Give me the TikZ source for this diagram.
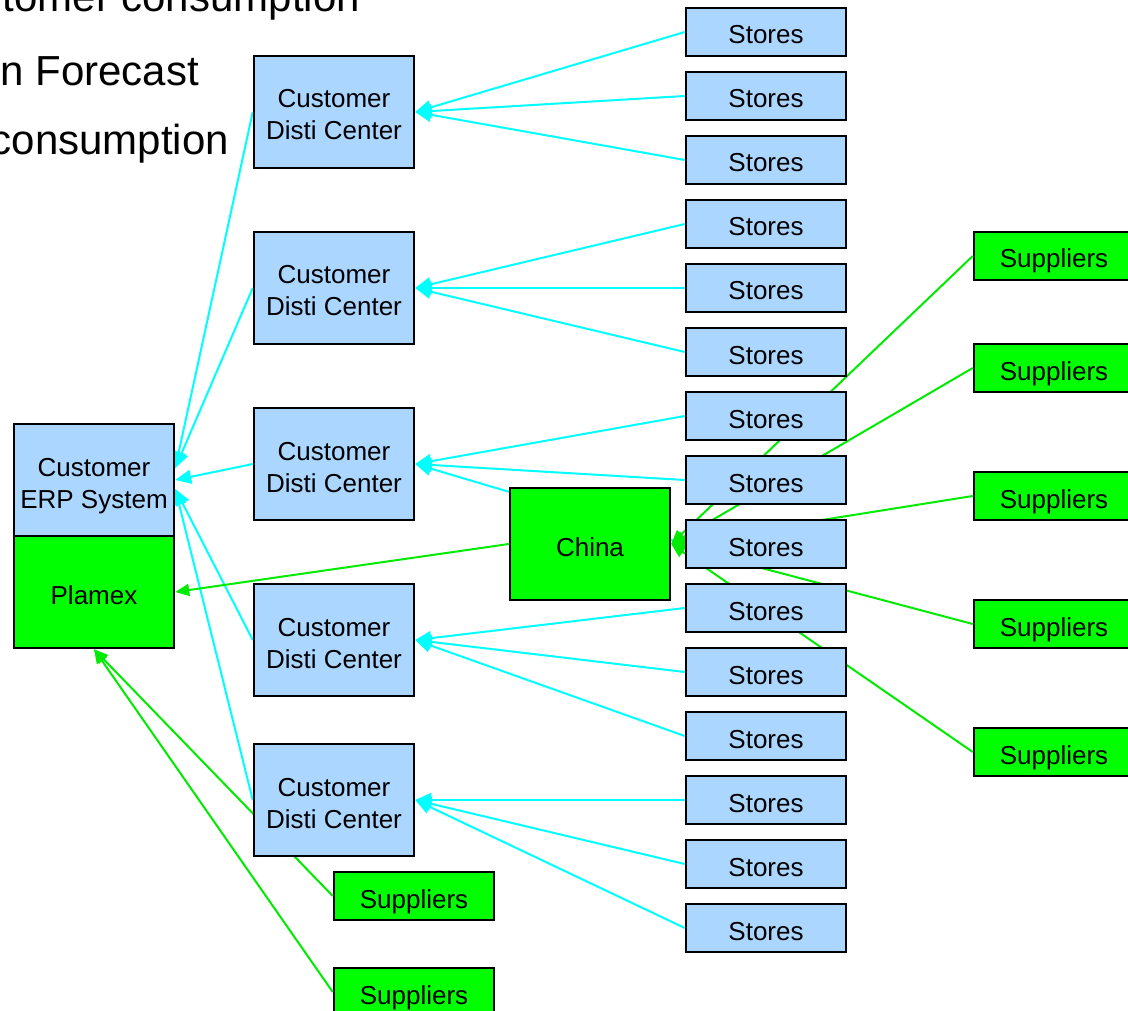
\documentclass[tikz,border=0pt]{standalone}
\usepackage{fontspec}
\setmainfont{Liberation Sans}
\usetikzlibrary{arrows.meta,backgrounds}
\definecolor{boxblue}{RGB}{170,214,255}
\definecolor{boxgreen}{RGB}{0,255,0}
\definecolor{linkcyan}{RGB}{0,255,255}
\definecolor{linkgreen}{RGB}{0,235,0}
% fixed ascent for the first line of a box label
\newcommand{\tallstrut}{\rule{0pt}{30pt}}

\begin{document}
\begin{tikzpicture}[x=1pt,y=-1pt,
  box/.style={draw=black, line width=2.5pt, inner sep=0pt, minimum width=160pt,
    align=center, font=\fontsize{26}{32}\selectfont,
    % fixed ascent/descent so every label sits at the same height in its box
    execute at begin node={\tallstrut},
    execute at end node={\rule[-6pt]{0pt}{0pt}}},
  bluebox/.style={box, fill=boxblue},
  greenbox/.style={box, fill=boxgreen},
  tall/.style={minimum height=112pt},
  flat/.style={minimum height=48pt},
  cyanlink/.style={draw=linkcyan, line width=2pt, -{Triangle[length=16pt,width=14pt]}},
  greenlink/.style={draw=linkgreen, line width=2pt, -{Triangle[length=14pt,width=12pt]}},
  heading/.style={anchor=base east, inner sep=0pt, font=\fontsize{42}{50}\selectfont}
]
\useasboundingbox (0,0) rectangle (1128,1011);

% bullet text at the top left
\node[heading] (t1) at (360,12) {tomer consumption};
\node[heading] (t2) at (199,86) {n Forecast};
\node[heading] (t3) at (229,155) {consumption};

% ERP system and Plamex
\node[bluebox,tall] (erp) at (94,480) {\tallstrut Customer\\ERP System};
\node[greenbox,tall] (plamex) at (94,592) {Plamex};

% distribution centres
\foreach \n/\y in {1/112,2/288,3/464,4/640,5/800}
  \node[bluebox,tall] (dc\n) at (334,\y) {\tallstrut Customer\\Disti Center};

% stores
\foreach \i in {1,...,15}
  \node[bluebox,flat] (s\i) at (766,{32+64*(\i-1)}) {Stores};

% China hub
\node[greenbox,tall] (china) at (590,544) {China};

% suppliers
\foreach \n/\y in {1/256,2/368,3/496,4/624,5/752}
  \node[greenbox,flat] (sup\n) at (1054,\y) {Suppliers};
\node[greenbox,flat] (supa) at (414,896) {Suppliers};
\node[greenbox,flat] (supb) at (414,992) {Suppliers};

\begin{pgfonlayer}{background}
  % stores report to their distribution centre
  \foreach \i/\n in {1/1,2/1,3/1,4/2,5/2,6/2,7/3,8/3,9/3,10/4,11/4,12/4,13/5,14/5,15/5}
    \draw[cyanlink] (s\i.west) -- (dc\n.east);
  % distribution centres report to the ERP system
  \draw[cyanlink] (dc1.west) -- ([yshift=12pt]erp.east);
  \draw[cyanlink] (dc2.west) -- ([yshift=12pt]erp.east);
  \draw[cyanlink] (dc3.west) -- (erp.east);
  \draw[cyanlink] (dc4.west) -- ([yshift=-9pt]erp.east);
  \draw[cyanlink] (dc5.west) -- ([yshift=-9pt]erp.east);
  % supply flows
  \draw[greenlink] (china.west) -- (plamex.east);
  \foreach \n in {1,...,5}
    \draw[greenlink] (sup\n.west) -- (china.east);
  \draw[greenlink] (supa.west) -- (plamex.south);
  \draw[greenlink] (supb.west) -- (plamex.south);
\end{pgfonlayer}
\end{tikzpicture}
\end{document}
